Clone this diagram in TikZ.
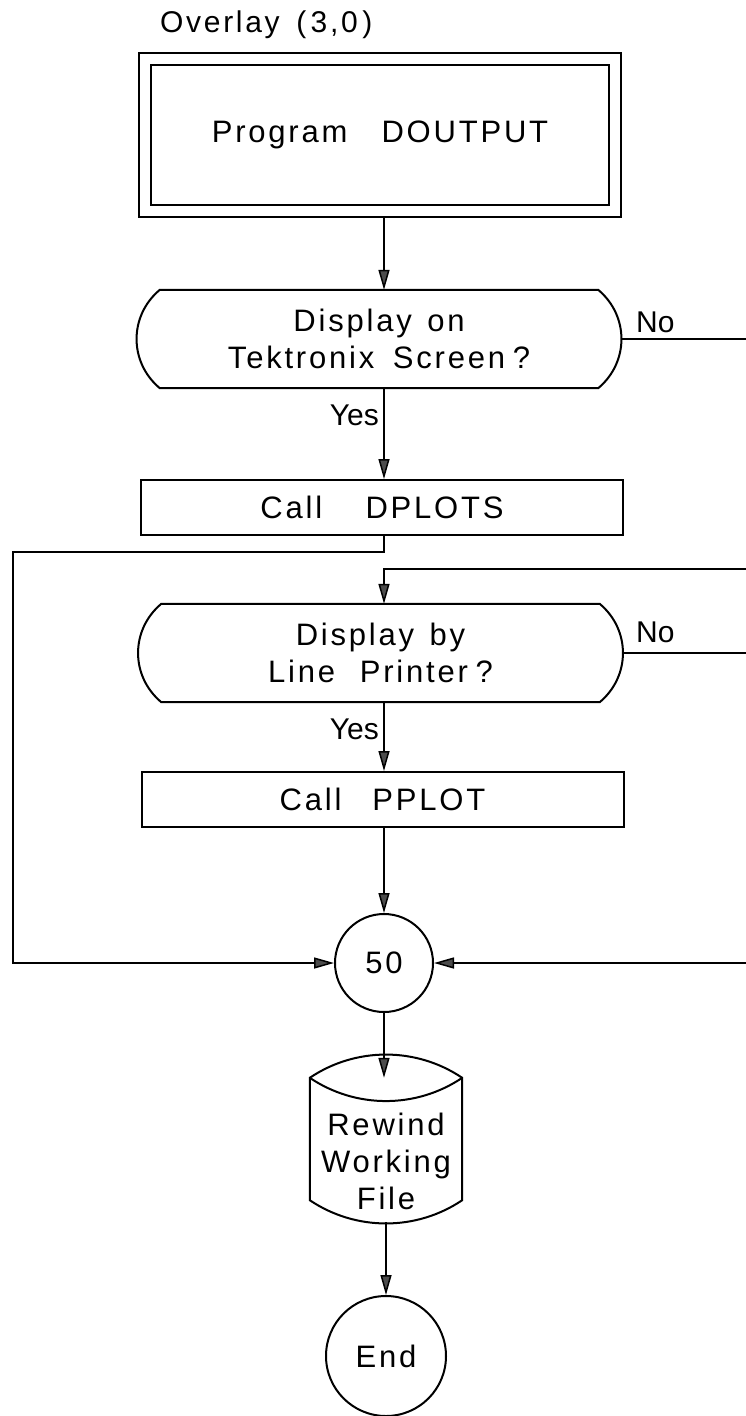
\documentclass[tikz,border=0pt]{standalone}
\usepackage{fontspec}
\setmainfont{Liberation Sans}
\newfontfamily\lettering[LetterSpace=9]{Liberation Sans}
\newcommand{\wgap}[1]{\hspace{#1em}}
\usetikzlibrary{arrows.meta}
\begin{document}
\begin{tikzpicture}[x=1pt,y=-1pt,
  every node/.style={inner sep=0pt, font=\lettering\fontsize{31}{37}\selectfont},
  shapeline/.style={line width=2pt},
  box/.style={draw, shapeline, minimum width=482pt, minimum height=55pt},
  decide/.style={minimum width=484pt, minimum height=98pt, align=center},
  circ/.style={draw, shapeline, circle},
  conn/.style={line width=1.5pt},
  arr/.style={conn, -{Triangle[length=20pt,width=11pt,fill=black!70]}},
  lbl/.style={font=\fontsize{30}{34}\selectfont},
]
\useasboundingbox (0,0) rectangle (746,1416);

% ---- nodes ----
\node (ovl) [anchor=base west, font=\lettering\fontsize{30}{34}\selectfont] at (160,32) {Overlay\wgap{0.55}(\wgap{0.15}3,0\wgap{0.15})};
\node (prog) [draw, double, double distance=10pt, line width=2pt,
  minimum width=470pt, minimum height=152pt, outer sep=7pt] at (380,135)
  {Program\wgap{1.1}DOUTPUT};
\node (d1) [decide] at (379,339) {Display\wgap{0.5}on\\Tektronix\wgap{0.6}Screen\wgap{0.25}?};
\node (dplots) [box] at (382,507.5) {Call\wgap{1.4}DPLOTS};
\node (d2) [decide] at (380.5,653) {Display\wgap{0.5}by\\Line\wgap{0.8}Printer\wgap{0.25}?};
\node (pplot) [box] at (382.5,799.5) {Call\wgap{1.0}PPLOT};
\node (c50) [circ, minimum size=98pt] at (384,963) {50};
\node (cyl) [minimum width=152pt, minimum height=122pt, align=center] at (386,1161)
  {Rewind\\Working\\File};
\node (end) [circ, minimum size=120pt] at (386,1356) {End};

\node (yes1) [lbl, anchor=base east] at (379,425) {Yes};
\node (yes2) [lbl, anchor=base east] at (379,739) {Yes};
\node (no1) [lbl, anchor=base west] at (636,332) {No};
\node (no2) [lbl, anchor=base west] at (636,642) {No};

% ---- shapes drawn around nodes ----
\foreach \d in {d1,d2}{
  \draw[shapeline] ([xshift=23pt]\d.north west) -- ([xshift=-23pt]\d.north east)
    .. controls +(31,26) and +(31,-26) .. ([xshift=-23pt]\d.south east)
    -- ([xshift=23pt]\d.south west)
    .. controls +(-31,-26) and +(-31,26) .. ([xshift=23pt]\d.north west) -- cycle;
}
\coordinate (cyltl) at ([yshift=22pt]cyl.north west);
\coordinate (cyltr) at ([yshift=22pt]cyl.north east);
\coordinate (cylbl) at ([yshift=22pt]cyl.south west);
\coordinate (cylbr) at ([yshift=22pt]cyl.south east);
\coordinate (cyltop) at ([yshift=22pt]cyl.north);
\draw[shapeline] (cyltl) .. controls +(46,-31) and +(-46,-31) .. (cyltr)
  -- (cylbr) .. controls +(-46,31) and +(46,31) .. (cylbl) -- cycle;
\draw[shapeline] (cyltl) .. controls +(46,31) and +(-46,31) .. (cyltr);

% ---- free ends at the right edge ----
\coordinate (redge) at (752,0);
\coordinate (r2) at (752,569);
\coordinate (r4) at (752,963);
\coordinate (ltop) at (13,552);

% ---- connectors ----
\draw[arr] (prog.south -| c50) -- (d1.north -| c50);
\draw[arr] (d1.south -| c50) -- (dplots.north -| c50);
\draw[conn] (d1.east) -- (d1.east -| redge);
\draw[arr] (dplots.south -| c50) |- (ltop) |- (c50.west);
\draw[arr] (r2) -| (d2.north -| c50);
\draw[conn] (d2.east) -- (d2.east -| redge);
\draw[arr] (d2.south -| c50) -- (pplot.north -| c50);
\draw[arr] (pplot.south -| c50) -- (c50.north);
\draw[arr] (r4) -- (c50.east);
\draw[arr] (c50.south) -- (c50.south |- cyltop);
\draw[arr] (cyl.south -| end) -- (end.north);
\end{tikzpicture}
\end{document}
